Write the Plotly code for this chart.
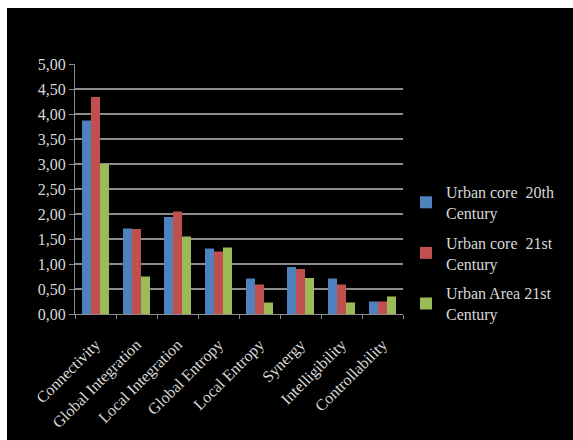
import plotly.graph_objects as go

categories = ["Connectivity", "Global Integration", "Local Integration", "Global Entropy",
              "Local Entropy", "Synergy", "Intelligibility", "Controllability"]
series_names = ["Urban core  20th<br>Century", "Urban core  21st<br>Century", "Urban Area 21st<br>Century"]
core_20th = [3.87, 1.71, 1.94, 1.31, 0.71, 0.94, 0.71, 0.25]
core_21st = [4.34, 1.70, 2.05, 1.25, 0.59, 0.90, 0.59, 0.25]
area_21st = [3.00, 0.75, 1.55, 1.33, 0.23, 0.72, 0.23, 0.35]
colors = ["#4F81BD", "#C0504D", "#9BBB59"]

W, H = 573, 440
L, R, T, B = 75, 170, 64, 126
pw, ph = W - L - R, H - T - B

def px_x(p):
    return (p - L) / pw

def px_y(p):
    return 1 - (p - T) / ph

FONT = "Liberation Serif, Times New Roman, serif"
TXT = "#d9d9d9"
GRID = "#8c8c8c"

fig = go.Figure()
for i, (name, vals) in enumerate(zip(series_names, [core_20th, core_21st, area_21st])):
    fig.add_trace(go.Bar(x=categories, y=vals, name=name, marker_color=colors[i],
                         marker_line_width=0, legendgroup=f"g{i}"))

fig.update_layout(
    width=W, height=H,
    margin=dict(l=L, r=R, t=T, b=B, pad=0, autoexpand=False),
    paper_bgcolor="black", plot_bgcolor="black",
    barmode="group", bargap=0.34, bargroupgap=0,
    separators=", ",
    font=dict(family=FONT, size=16, color=TXT),
    showlegend=True,
    legend=dict(x=px_x(406), xanchor="left", y=px_y(253), yanchor="middle",
                bgcolor="rgba(0,0,0,0)", font=dict(family=FONT, size=16, color=TXT),
                tracegroupgap=6, itemwidth=30),
    xaxis=dict(tickangle=-45, showgrid=False, showline=True, linecolor=GRID, linewidth=1,
               ticks="outside", tickson="boundaries", ticklen=4, tickcolor=GRID,
               ticklabelstandoff=14, automargin=False,
               tickfont=dict(family=FONT, size=16, color=TXT)),
    yaxis=dict(range=[0, 5], dtick=0.5, tickformat=".2f", showgrid=True, gridcolor=GRID,
               gridwidth=1.5, showline=True, linecolor=GRID, linewidth=1, ticks="outside",
               ticklen=5, tickcolor=GRID, zeroline=False, automargin=False,
               tickfont=dict(family=FONT, size=16, color=TXT)),
    shapes=[
        dict(type="rect", xref="paper", yref="paper", x0=px_x(0), x1=px_x(7), y0=px_y(H), y1=px_y(0),
             fillcolor="white", line_width=0, layer="below"),
        dict(type="rect", xref="paper", yref="paper", x0=px_x(0), x1=px_x(W), y0=px_y(8), y1=px_y(0),
             fillcolor="white", line_width=0, layer="below"),
    ],
)

fig.write_html("out.html")
